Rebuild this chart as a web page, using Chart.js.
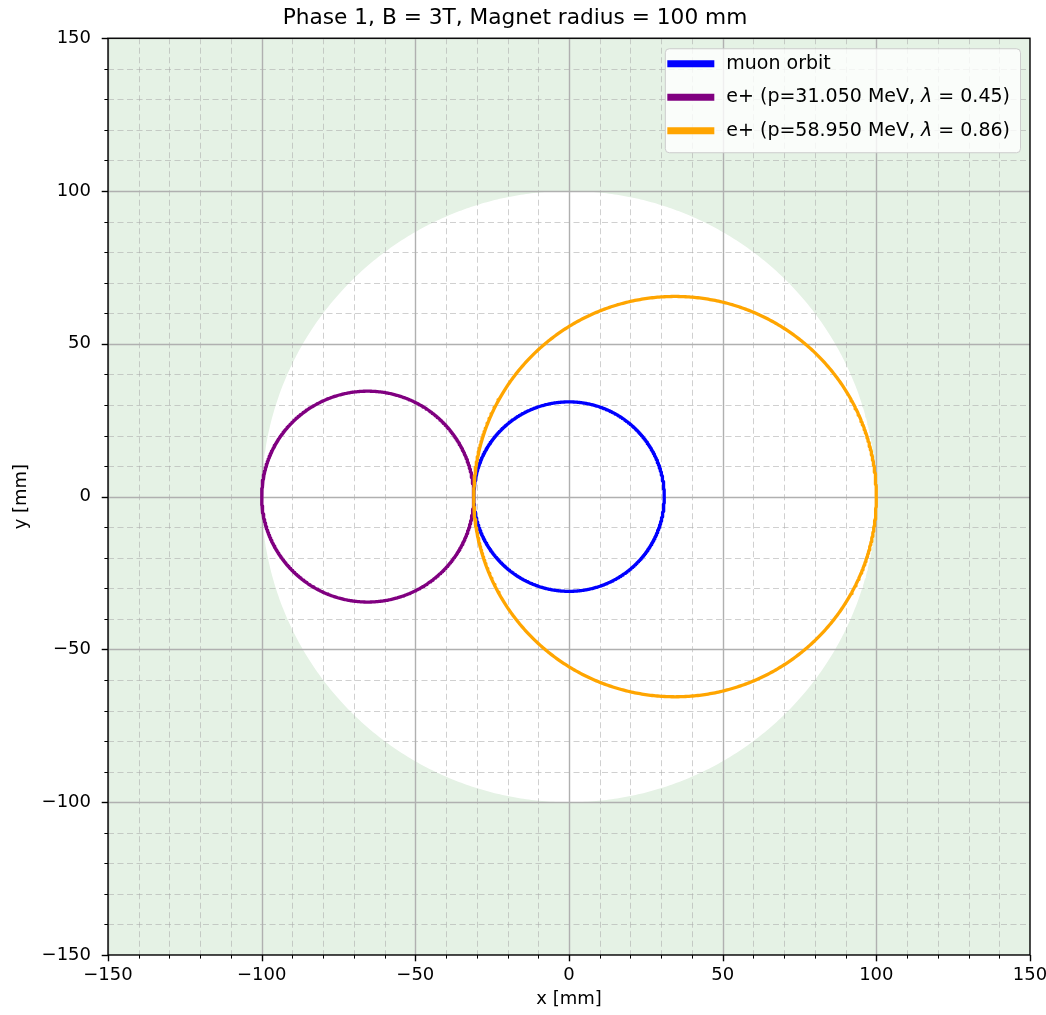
<!DOCTYPE html>
<html><head><meta charset="utf-8">
<script src="https://cdn.jsdelivr.net/npm/chart.js@4"></script>
<style>html,body{margin:0;padding:0;background:#fff;overflow:hidden}</style>
</head><body>
<canvas id="c" width="1046" height="1015"></canvas>
<script>
// ---- data ----
const titleText = 'Phase 1, B = 3T, Magnet radius = 100 mm';
const xLabel = 'x [mm]';
const yLabel = 'y [mm]';
const axisMin = -150, axisMax = 150;
const minorStep = 10, majorStep = 50;
const seriesLabels = ['muon orbit', 'e+ (p=31.050 MeV, λ = 0.45)', 'e+ (p=58.950 MeV, λ = 0.86)'];
const seriesColors = ['#0000ff', '#800080', '#ffa500'];
const centerX = [0, -65.5, 34.5];
const centerY = [0, 0, 0];
const radii = [31, 34.5, 65.5];
const magnetCenter = [0, 0];
const magnetRadius = 100;

function circlePoints(cx, cy, r) {
  const pts = [];
  const n = 720;
  for (let i = 0; i <= n; i++) {
    const t = 2 * Math.PI * i / n;
    pts.push({x: cx + r * Math.cos(t), y: cy + r * Math.sin(t)});
  }
  return pts;
}
function fmt(v) { return v < 0 ? '\u2212' + Math.abs(v) : String(v); }

const FONT = 'DejaVu Sans';
const datasets = seriesLabels.map((lab, i) => ({
  label: lab,
  data: circlePoints(centerX[i], centerY[i], radii[i]),
  borderColor: seriesColors[i],
  backgroundColor: seriesColors[i],
  borderWidth: 3.3,
  borderJoinStyle: 'round',
  showLine: true,
  pointRadius: 0,
  pointHoverRadius: 0,
  fill: false,
  tension: 0,
  order: seriesLabels.length - i,
  inLegend: true
}));
datasets.push({
  label: 'magnet',
  data: circlePoints(magnetCenter[0], magnetCenter[1], magnetRadius),
  borderColor: 'rgba(0,0,0,0)',
  backgroundColor: '#ffffff',
  borderWidth: 0,
  showLine: true,
  pointRadius: 0,
  pointHoverRadius: 0,
  fill: 'shape',
  tension: 0,
  order: 10,
  inLegend: false
});
const DISC = datasets.length - 1;

function drawGrid(chart) {
  const {ctx, chartArea: a, scales} = chart;
  ctx.save();
  ctx.beginPath();
  ctx.rect(a.left, a.top, a.right - a.left, a.bottom - a.top);
  ctx.clip();
  const lines = [];
  scales.x.ticks.forEach(t => lines.push({v: t.value, axis: 'x'}));
  scales.y.ticks.forEach(t => lines.push({v: t.value, axis: 'y'}));
  [false, true].forEach(major => {
    lines.forEach(l => {
      const isMajor = Math.abs(l.v % majorStep) < 1e-9;
      if (isMajor !== major) return;
      ctx.beginPath();
      if (major) {
        ctx.setLineDash([]);
        ctx.strokeStyle = '#b0b0b0';
        ctx.lineWidth = 1.4;
      } else {
        ctx.setLineDash([6, 3.5]);
        ctx.strokeStyle = 'rgba(170,170,170,0.55)';
        ctx.lineWidth = 1;
      }
      if (l.axis === 'x') {
        const p = Math.round(scales.x.getPixelForValue(l.v)) + 0.5;
        ctx.moveTo(p, a.top); ctx.lineTo(p, a.bottom);
      } else {
        const p = Math.round(scales.y.getPixelForValue(l.v)) + 0.5;
        ctx.moveTo(a.left, p); ctx.lineTo(a.right, p);
      }
      ctx.stroke();
    });
  });
  ctx.restore();
}

function drawFrame(chart) {
  const {ctx, chartArea: a, scales} = chart;
  ctx.save();
  ctx.strokeStyle = '#000';
  ctx.setLineDash([]);
  scales.x.ticks.forEach(t => {
    const isMajor = Math.abs(t.value % majorStep) < 1e-9;
    const p = Math.round(scales.x.getPixelForValue(t.value)) + 0.5;
    ctx.lineWidth = isMajor ? 1.4 : 1.0;
    const len = isMajor ? 6.3 : 3.6;
    ctx.beginPath(); ctx.moveTo(p, a.bottom); ctx.lineTo(p, a.bottom + len); ctx.stroke();
  });
  scales.y.ticks.forEach(t => {
    const isMajor = Math.abs(t.value % majorStep) < 1e-9;
    const p = Math.round(scales.y.getPixelForValue(t.value)) + 0.5;
    ctx.lineWidth = isMajor ? 1.4 : 1.0;
    const len = isMajor ? 6.3 : 3.6;
    ctx.beginPath(); ctx.moveTo(a.left, p); ctx.lineTo(a.left - len, p); ctx.stroke();
  });
  ctx.lineWidth = 1.4;
  ctx.strokeRect(a.left, a.top, a.right - a.left, a.bottom - a.top);
  ctx.restore();
}

function drawLegend(chart) {
  const {ctx, chartArea: a} = chart;
  const items = chart.data.datasets.filter(d => d.inLegend);
  const fs = 19;
  const nfont = fs + 'px "' + FONT + '"';
  const ifont = 'italic ' + fs + 'px "' + FONT + '"';
  ctx.save();
  const parsed = items.map(d => {
    const parts = d.label.split('λ');
    const segs = [];
    parts.forEach((p, k) => {
      if (k > 0) segs.push({t: 'λ', f: ifont});
      if (p) segs.push({t: p, f: nfont});
    });
    let w = 0;
    segs.forEach(s => { ctx.font = s.f; s.w = ctx.measureText(s.t).width; w += s.w; });
    return {d, segs, w};
  });
  const maxW = Math.max(...parsed.map(p => p.w));
  const padL = 2.5, handleW = 47, gap = 12, padR = 10;
  const boxR = a.right - 10, boxT = a.top + 10;
  const boxW = padL + handleW + gap + maxW + padR;
  const boxL = boxR - boxW, boxH = 104;
  ctx.beginPath();
  ctx.roundRect(boxL + 0.5, boxT + 0.5, boxW, boxH, 4);
  ctx.fillStyle = 'rgba(255,255,255,0.8)';
  ctx.fill();
  ctx.strokeStyle = '#cccccc';
  ctx.lineWidth = 1;
  ctx.stroke();
  parsed.forEach((p, i) => {
    const y = boxT + 15.5 + i * 33.5;
    ctx.beginPath();
    ctx.strokeStyle = p.d.borderColor;
    ctx.lineWidth = 7;
    ctx.lineCap = 'butt';
    ctx.moveTo(boxL + padL, y); ctx.lineTo(boxL + padL + handleW, y);
    ctx.stroke();
    let x = boxL + padL + handleW + gap;
    ctx.fillStyle = '#000';
    ctx.textBaseline = 'middle';
    ctx.textAlign = 'left';
    p.segs.forEach(s => { ctx.font = s.f; ctx.fillText(s.t, x, y); x += s.w; });
  });
  ctx.restore();
}

const deco = {
  id: 'deco',
  beforeDraw(chart) {
    const {ctx, chartArea: a} = chart;
    ctx.save();
    ctx.fillStyle = '#e5f2e5';
    ctx.fillRect(a.left, a.top, a.right - a.left, a.bottom - a.top);
    ctx.restore();
  },
  afterDatasetDraw(chart, args) {
    if (args.index === DISC) drawGrid(chart);
  },
  afterDraw(chart) {
    drawFrame(chart);
    drawLegend(chart);
  }
};

const tickFont = {family: FONT, size: 18};
new Chart(document.getElementById('c'), {
  type: 'scatter',
  data: {datasets},
  options: {
    responsive: false,
    animation: false,
    devicePixelRatio: 1,
    layout: {padding: {left: 0, right: 16, top: 0, bottom: 0}},
    plugins: {
      legend: {display: false},
      tooltip: {enabled: false},
      title: {display: true, text: titleText, color: '#000', font: {family: FONT, size: 21.7, weight: 'normal'}, padding: {top: 5, bottom: 7.2}}
    },
    scales: {
      x: {
        type: 'linear', position: 'bottom', min: axisMin, max: axisMax,
        ticks: {stepSize: minorStep, autoSkip: false, maxRotation: 0, minRotation: 0, color: '#000', font: tickFont, padding: 10,
          callback: v => (Math.abs(v % majorStep) < 1e-9 ? fmt(v) : '')},
        grid: {display: false, drawTicks: false},
        border: {display: false},
        title: {display: true, text: xLabel, color: '#000', font: tickFont, padding: {top: 0, bottom: 5}},
        afterFit: s => { s.height = 60; s.paddingLeft = 0; s.paddingRight = 0; }
      },
      y: {
        type: 'linear', position: 'left', min: axisMin, max: axisMax,
        ticks: {stepSize: minorStep, autoSkip: false, color: '#000', font: tickFont, padding: 17,
          callback: v => (Math.abs(v % majorStep) < 1e-9 ? fmt(v) : '')},
        grid: {display: false, drawTicks: false},
        border: {display: false},
        title: {display: true, text: yLabel, color: '#000', font: tickFont, padding: {top: 11, bottom: 0}},
        afterFit: s => { s.width = 108; s.paddingTop = 0; s.paddingBottom = 0; }
      }
    }
  },
  plugins: [deco]
});
</script>
</body></html>
